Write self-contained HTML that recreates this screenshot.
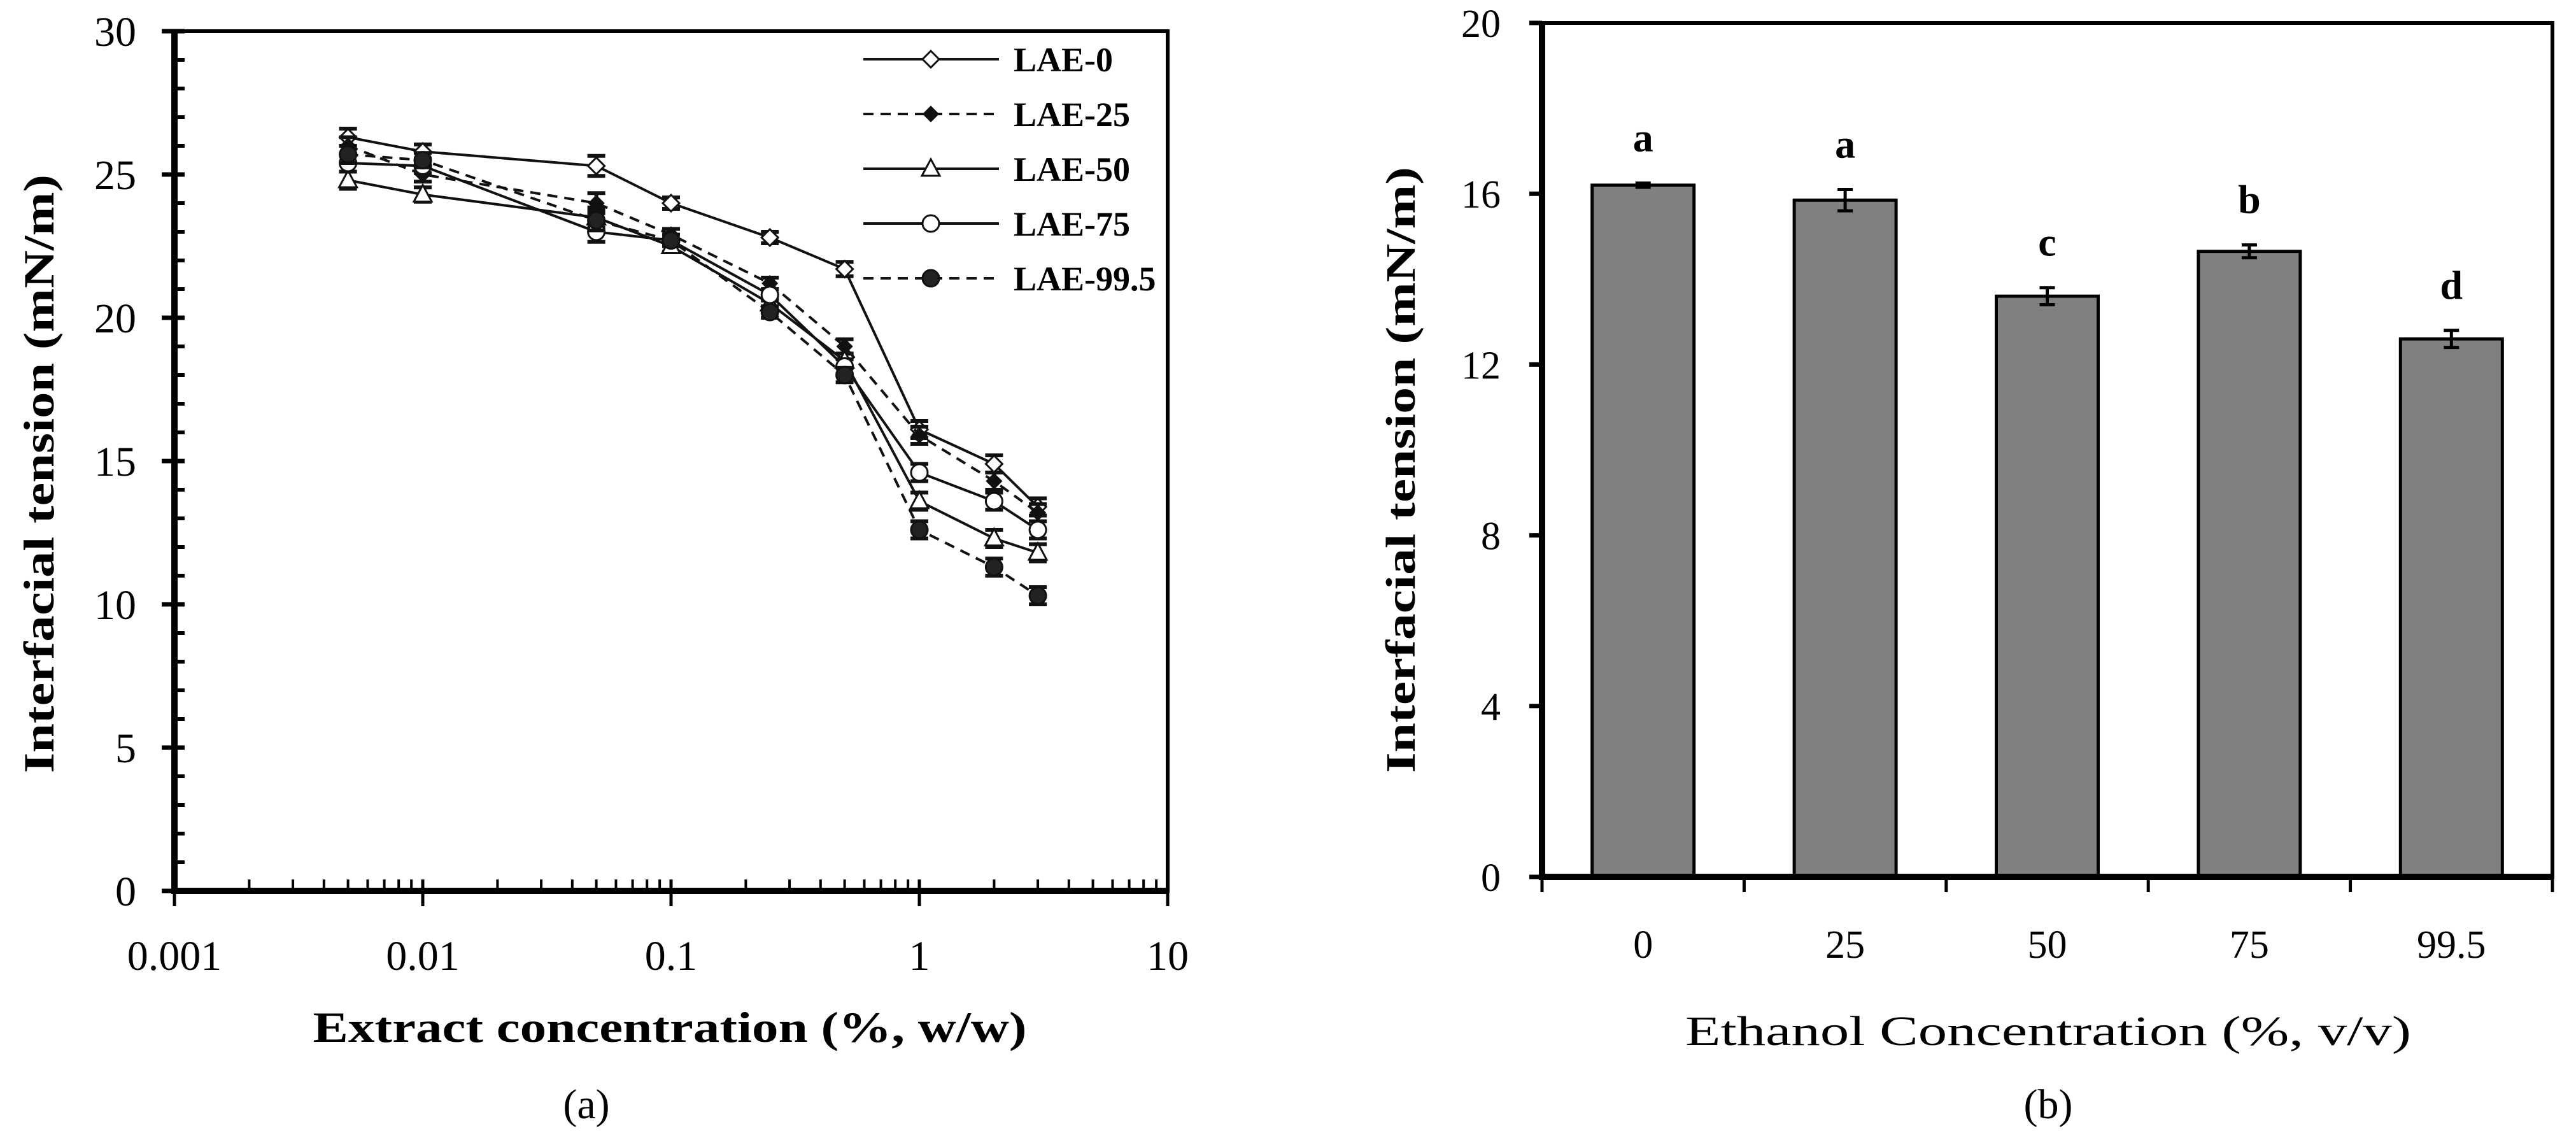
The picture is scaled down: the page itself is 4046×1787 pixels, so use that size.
<!DOCTYPE html>
<html><head><meta charset="utf-8"><style>
html,body{margin:0;padding:0;background:#fff;}
svg{display:block;font-family:"Liberation Serif",serif;}
</style></head><body>
<svg id="fig" width="4046" height="1787" viewBox="0 0 4046 1787" xmlns="http://www.w3.org/2000/svg">
<g id="chartA"></g>
<g id="chartB"></g>
</svg>
<script>
// ---- Chart A data ----
const concX = [0.005, 0.01, 0.05, 0.1, 0.25, 0.5, 1, 2, 3];
const seriesNames = ["LAE-0", "LAE-25", "LAE-50", "LAE-75", "LAE-99.5"];
const lae0 = [26.3, 25.8, 25.3, 24.0, 22.8, 21.7, 16.1, 14.9, 13.4];
const lae25 = [26.0, 25.0, 24.0, 22.9, 21.2, 19.0, 15.9, 14.3, 13.2];
const lae50 = [24.8, 24.3, 23.5, 22.5, 20.5, 18.5, 13.6, 12.3, 11.8];
const lae75 = [25.4, 25.3, 23.0, 22.7, 20.8, 18.3, 14.6, 13.6, 12.6];
const lae995 = [25.7, 25.5, 23.4, 22.7, 20.2, 18.0, 12.6, 11.3, 10.3];
const errA = [0.3, 0.25, 0.35, 0.2, 0.2, 0.25, 0.3, 0.3, 0.3];
const yTicksA = [0, 5, 10, 15, 20, 25, 30];
const xTicksA = ["0.001", "0.01", "0.1", "1", "10"];
// ---- Chart B data ----
const ethCats = ["0", "25", "50", "75", "99.5"];
const ethVals = [16.2, 15.85, 13.6, 14.65, 12.6];
const ethErr = [0.05, 0.25, 0.2, 0.15, 0.2];
const ethLetters = ["a", "a", "c", "b", "d"];
const yTicksB = [0, 4, 8, 12, 16, 20];

const NS = "http://www.w3.org/2000/svg";
function mk(parent, tag, attrs, text) {
  const e = document.createElementNS(NS, tag);
  for (const k in attrs) e.setAttribute(k, attrs[k]);
  if (text !== undefined) e.textContent = text;
  parent.appendChild(e);
  return e;
}

// ===== Chart A =====
(function () {
  const g = document.getElementById("chartA");
  const L = 274, R = 1834, T = 49, B = 1399;
  const xs = v => L + (Math.log10(v) + 3) / 4 * (R - L);
  const ys = v => B - v / 30 * (B - T);
  let e = mk(g, "rect", {x: L, y: T, width: R - L, height: B - T, fill: "none", stroke: "#000", "stroke-width": 6});
  
  
  e = mk(g, "path", {d: `M${L},${T}V${B}H${R}`, fill: "none", stroke: "#000", "stroke-width": 10});
  
  
  for (let v = 0; v <= 30; v++) {
    const y = ys(v);
    const major = v % 5 === 0;
    e = mk(g, "line", {x1: major ? L - 20 : L, x2: L + 16, y1: y, y2: y, stroke: "#000", "stroke-width": major ? 7 : 6});
    
    
  }
  yTicksA.forEach(v => {
    e = mk(g, "text", {x: 214, y: ys(v) + 23, "font-size": 66, "text-anchor": "end"}, String(v));
    
    
  });
  for (let d = -3; d <= 1; d++) {
    for (let m = 1; m <= 9; m++) {
      const v = m * Math.pow(10, d);
      if (v > 10) break;
      const x = xs(v);
      const major = m === 1;
      e = mk(g, "line", {x1: x, x2: x, y1: major ? B + 24 : B, y2: B - 18, stroke: "#000", "stroke-width": major ? 5 : 4});
      
      
    }
  }
  xTicksA.forEach(t => {
    e = mk(g, "text", {x: xs(parseFloat(t)), y: 1523, "font-size": 66, "text-anchor": "middle"}, t);
    
    
  });
  e = mk(g, "text", {x: 1052, y: 1636, "font-size": 68, "font-weight": "bold", "text-anchor": "middle", textLength: 1121, lengthAdjust: "spacingAndGlyphs"}, "Extract concentration (%, w/w)");
  
  
  e = mk(g, "text", {x: 0, y: 0, "font-size": 68, "font-weight": "bold", "text-anchor": "middle", textLength: 940, lengthAdjust: "spacingAndGlyphs", transform: "translate(84,744) rotate(-90)"}, "Interfacial tension (mN/m)");
  
  
  e = mk(g, "text", {x: 921, y: 1756, "font-size": 66, "text-anchor": "middle"}, "(a)");
  
  

  const allSeries = [lae0, lae25, lae50, lae75, lae995];
  const dashes = [null, "16,11", null, null, "16,11"];
  const markers = ["diamond-open", "diamond-filled", "triangle-open", "circle-open", "circle-filled"];
  function marker(parent, type, x, y) {
    let m;
    if (type === "diamond-open" || type === "diamond-filled") {
      const s = type === "diamond-open" ? 13 : 11;
      m = mk(parent, "polygon", {points: `${x},${y - s} ${x + s},${y} ${x},${y + s} ${x - s},${y}`, fill: type === "diamond-open" ? "#fff" : "#111", stroke: "#111", "stroke-width": 3});
    } else if (type === "triangle-open") {
      m = mk(parent, "polygon", {points: `${x},${y - 15} ${x + 14},${y + 11} ${x - 14},${y + 11}`, fill: "#fff", stroke: "#111", "stroke-width": 3});
    } else {
      m = mk(parent, "circle", {cx: x, cy: y, r: 13, fill: type === "circle-open" ? "#fff" : "#222", stroke: "#111", "stroke-width": 3});
    }
    return m;
  }
  allSeries.forEach((vals, si) => {
    const sg = mk(g, "g", {});
    
    
    const pts = vals.map((v, i) => xs(concX[i]) + "," + ys(v)).join(" ");
    const attrs = {points: pts, fill: "none", stroke: "#111", "stroke-width": 4};
    if (dashes[si]) attrs["stroke-dasharray"] = dashes[si];
    e = mk(sg, "polyline", attrs);
    
    
    vals.forEach((v, i) => {
      const x = xs(concX[i]);
      const y1 = ys(v + errA[i]), y2 = ys(v - errA[i]);
      e = mk(sg, "path", {d: `M${x},${y1}V${y2}M${x - 14},${y1}H${x + 14}M${x - 14},${y2}H${x + 14}`, stroke: "#111", "stroke-width": 6, fill: "none"});
      
      
      e = marker(sg, markers[si], x, ys(v));
      
      
    });
  });
  const lg = mk(g, "g", {});
  
  
  const rowsY = [93, 179, 265, 351, 437];
  seriesNames.forEach((n, si) => {
    const y = rowsY[si];
    const eg = mk(lg, "g", {});
    
    
    const a = {x1: 1356, x2: 1569, y1: y, y2: y, stroke: "#111", "stroke-width": 4};
    if (dashes[si]) a["stroke-dasharray"] = "16,11";
    mk(eg, "line", a);
    marker(eg, markers[si], 1462, y);
    mk(eg, "text", {x: 1592, y: y + 19, "font-size": 54, "font-weight": "bold"}, n);
  });
})();

// ===== Chart B =====
(function () {
  const g = document.getElementById("chartB");
  const L = 2422, R = 4009, T = 36, B = 1377;
  const bw = (R - L) / ethCats.length;
  const xc = i => L + bw * (i + 0.5);
  const ys = v => B - v / 20 * (B - T);
  let e;
  ethVals.forEach((v, i) => {
    e = mk(g, "rect", {x: xc(i) - 80, y: ys(v), width: 160, height: B - ys(v), fill: "#808080", stroke: "#000", "stroke-width": 5});
    
    
    const y1 = ys(v + ethErr[i]), y2 = ys(v - ethErr[i]);
    e = mk(g, "path", {d: `M${xc(i)},${y1}V${y2}M${xc(i) - 12},${y1}H${xc(i) + 12}M${xc(i) - 12},${y2}H${xc(i) + 12}`, stroke: "#000", "stroke-width": 5, fill: "none"});
    
    
    e = mk(g, "text", {x: xc(i), y: ys(v + ethErr[i]) - 50, "font-size": 64, "font-weight": "bold", "text-anchor": "middle"}, ethLetters[i]);
    
    
    e = mk(g, "text", {x: xc(i), y: 1504, "font-size": 62, "text-anchor": "middle"}, ethCats[i]);
    
    
  });
  e = mk(g, "rect", {x: L, y: T, width: R - L, height: B - T, fill: "none", stroke: "#000", "stroke-width": 6});
  
  
  e = mk(g, "path", {d: `M${L},${T}V${B}H${R}`, fill: "none", stroke: "#000", "stroke-width": 10});
  
  
  yTicksB.forEach(v => {
    e = mk(g, "line", {x1: L - 20, x2: L, y1: ys(v), y2: ys(v), stroke: "#000", "stroke-width": 7});
    
    
    e = mk(g, "text", {x: 2357, y: ys(v) + 22, "font-size": 62, "text-anchor": "end"}, String(v));
    
    
  });
  for (let i = 0; i <= ethCats.length; i++) {
    const x = L + bw * i;
    e = mk(g, "line", {x1: x, x2: x, y1: B, y2: B + 24, stroke: "#000", "stroke-width": 5});
    
    
  }
  e = mk(g, "text", {x: 3217, y: 1641, "font-size": 66, "text-anchor": "middle", textLength: 1140, lengthAdjust: "spacingAndGlyphs"}, "Ethanol Concentration (%, v/v)");
  
  
  e = mk(g, "text", {x: 0, y: 0, "font-size": 66, "font-weight": "bold", "text-anchor": "middle", textLength: 952, lengthAdjust: "spacingAndGlyphs", transform: "translate(2222,738) rotate(-90)"}, "Interfacial tension (mN/m)");
  
  
  e = mk(g, "text", {x: 3217, y: 1756, "font-size": 66, "text-anchor": "middle"}, "(b)");
  
  
})();
</script>
</body></html>
